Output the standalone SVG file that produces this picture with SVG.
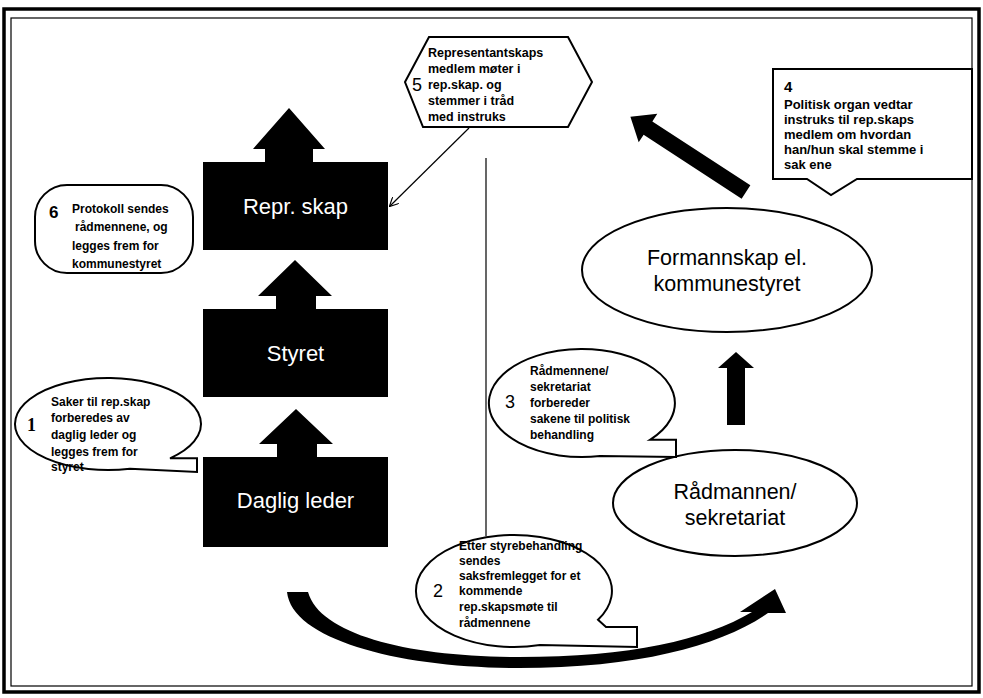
<svg xmlns="http://www.w3.org/2000/svg" width="983" height="698" viewBox="0 0 983 698">
<defs>
<style>
.bg{fill:#ffffff}
.frame-o{fill:none;stroke:#000;stroke-width:3.5}
.frame-i{fill:none;stroke:#000;stroke-width:1.2}
.box{fill:#000}
.boxt{font-family:"Liberation Sans",Arial,sans-serif;font-size:22px;fill:#fff;text-anchor:middle}
.ell{fill:#fff;stroke:#000;stroke-width:2}
.ellt{font-family:"Liberation Sans",Arial,sans-serif;font-size:21.5px;fill:#000;text-anchor:middle}
.bub{fill:#fff;stroke:#000;stroke-width:2;stroke-linejoin:miter}
.bt{font-family:"Liberation Sans",Arial,sans-serif;font-size:12px;font-weight:bold;fill:#000}
.bt5{font-family:"Liberation Sans",Arial,sans-serif;font-size:12.5px;font-weight:bold;fill:#000}
.bt4{font-family:"Liberation Sans",Arial,sans-serif;font-size:13px;font-weight:bold;fill:#000}
.num{font-family:"Liberation Sans",Arial,sans-serif;font-size:18px;fill:#000}
.blk{fill:#000}
.thin{fill:none;stroke:#000;stroke-width:1.2}
</style>
<marker id="open" viewBox="0 0 10 10" refX="9" refY="5" markerWidth="9" markerHeight="9" orient="auto" markerUnits="userSpaceOnUse">
<path d="M0,0 L10,5 L0,10" fill="none" stroke="#000" stroke-width="1.3"/>
</marker>
</defs>
<rect class="bg" x="0" y="0" width="983" height="698"/>
<g id="frame">
<rect class="frame-o" x="4" y="9" width="975" height="683"/>
<rect class="frame-i" x="11" y="18" width="961" height="668"/>
</g>

<g id="connectors">
<line class="thin" x1="486" y1="158" x2="486" y2="536"/>
<line class="thin" x1="469" y1="128" x2="390" y2="206" marker-end="url(#open)"/>
<polygon class="blk" points="265,163 265,149 253,149 289,108 325,149 313,149 313,163"/>
<polygon class="blk" points="276,310 276,296 258,296 295,260 332,296 316,296 316,310"/>
<polygon class="blk" points="277,458 277,444 259,444 296,409 333,444 317,444 317,458"/>
<polygon class="blk" points="727,425 727,368 718,368 736,352 754,368 745,368 745,425"/>
<polygon class="blk" transform="translate(746,192) rotate(-146.9)" points="0,-8 117,-8 117,-17 138,0 117,17 117,8 0,8"/>
<path class="blk" d="M287,592 C292,640 400,668 519,668 C640,668 722,645 768,613 L786,613 L775,589 L740,612 L752,612 C705,640 630,657 519,657 C410,657 320,635 308,592 Z"/>
</g>

<g id="node-repr">
<rect class="box" x="203" y="162" width="185" height="88"/>
<text class="boxt" x="295.5" y="214">Repr. skap</text>
</g>
<g id="node-styret">
<rect class="box" x="203" y="309" width="185" height="88"/>
<text class="boxt" x="295.5" y="361">Styret</text>
</g>
<g id="node-daglig">
<rect class="box" x="203" y="457" width="185" height="90"/>
<text class="boxt" x="295.5" y="508">Daglig leder</text>
</g>

<g id="node-formannskap">
<ellipse class="ell" cx="727" cy="270" rx="145" ry="62"/>
<text class="ellt" x="727" y="265">Formannskap el.</text>
<text class="ellt" x="727" y="291">kommunestyret</text>
</g>
<g id="node-radmannen">
<ellipse class="ell" cx="735" cy="503" rx="122" ry="53"/>
<text class="ellt" x="735" y="499">Rådmannen/</text>
<text class="ellt" x="735" y="525">sekretariat</text>
</g>

<g id="bubble-5">
<polygon class="bub" points="405,82 429,37 568,37 592,82 568,127 423,127"/>
<text class="num" x="412" y="91">5</text>
<text class="bt5" x="428" y="57">Representantskaps</text>
<text class="bt5" x="428" y="73">medlem møter i</text>
<text class="bt5" x="428" y="89">rep.skap. og</text>
<text class="bt5" x="428" y="105">stemmer i tråd</text>
<text class="bt5" x="428" y="121">med instruks</text>
</g>

<g id="bubble-4">
<path class="bub" d="M773,69 L972,69 L972,179 L857,179 L831,195 L807,179 L773,179 Z"/>
<text class="bt4" x="784" y="92" style="font-size:15px">4</text>
<text class="bt4" x="784" y="109">Politisk organ vedtar</text>
<text class="bt4" x="784" y="124">instruks til rep.skaps</text>
<text class="bt4" x="784" y="139">medlem om hvordan</text>
<text class="bt4" x="784" y="154">han/hun skal stemme i</text>
<text class="bt4" x="784" y="169">sak ene</text>
</g>

<g id="bubble-6">
<rect class="bub" x="35" y="185" width="158" height="88" rx="32" ry="32"/>
<text class="num" x="49" y="218" style="font-weight:bold;font-size:17px">6</text>
<text class="bt" x="72" y="213">Protokoll sendes</text>
<text class="bt" x="75" y="231">rådmennene, og</text>
<text class="bt" x="72" y="250">legges frem for</text>
<text class="bt" x="72" y="268">kommunestyret</text>
</g>

<g id="bubble-1">
<path class="bub" d="M170,458.3 L197,458.3 L197,472 L130,468.7 A93,46 0 1 1 170,458.3 Z"/>
<text class="num" x="27" y="431" style="font-family:'Liberation Serif',serif;font-weight:bold">1</text>
<text class="bt" x="51" y="406">Saker til rep.skap</text>
<text class="bt" x="51" y="422">forberedes av</text>
<text class="bt" x="51" y="439">daglig leder og</text>
<text class="bt" x="51" y="456">legges frem for</text>
<text class="bt" x="51" y="471">styret</text>
</g>

<g id="bubble-3">
<path class="bub" d="M650,439.8 L676,439.8 L676,457 L600,456 A93,54 0 1 1 650,439.8 Z"/>
<text class="num" x="505" y="408">3</text>
<text class="bt" x="530" y="375">Rådmennene/</text>
<text class="bt" x="530" y="391">sekretariat</text>
<text class="bt" x="530" y="407">forbereder</text>
<text class="bt" x="530" y="423">sakene til politisk</text>
<text class="bt" x="530" y="439">behandling</text>
</g>

<g id="bubble-2">
<path class="bub" d="M598,619.8 L606,627 L637,627 L637,647 L540,645 A98,56 0 1 1 598,619.8 Z"/>
<text class="num" x="433" y="597">2</text>
<text class="bt" x="459" y="550">Etter styrebehandling</text>
<text class="bt" x="459" y="565">sendes</text>
<text class="bt" x="459" y="580">saksfremlegget for et</text>
<text class="bt" x="459" y="595">kommende</text>
<text class="bt" x="459" y="611">rep.skapsmøte til</text>
<text class="bt" x="459" y="627">rådmennene</text>
</g>
</svg>
